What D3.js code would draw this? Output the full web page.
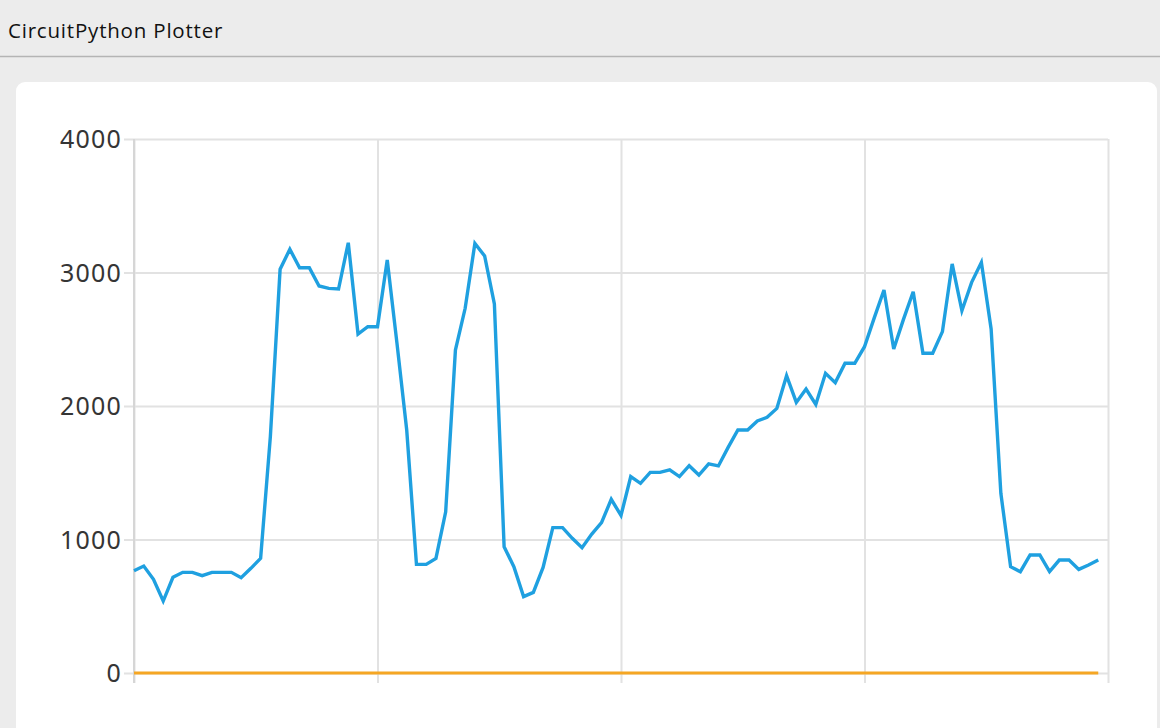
<!DOCTYPE html>
<html>
<head>
<meta charset="utf-8">
<script src="https://cdn.jsdelivr.net/npm/d3@7"></script>
<style>
  html, body { margin: 0; padding: 0; background: #ececec; }
  svg { display: block; }
</style>
</head>
<body>
<svg id="chart" width="1160" height="728"></svg>
<script>
const titleText = "CircuitPython Plotter";
const yTicks = [0, 1000, 2000, 3000, 4000];
const xTicks = [0, 25, 50, 75, 100];
const sensorValues = [
  766, 801, 702, 539, 717, 754, 754, 729, 754, 754,
  754, 714, 784, 859, 1770, 3024, 3174, 3036, 3036, 2899,
  2881, 2876, 3223, 2539, 2594, 2594, 3094, 2469, 1820, 814,
  814, 859, 1208, 2419, 2732, 3218, 3124, 2764, 946, 796,
  572, 604, 791, 1089, 1089, 1009, 939, 1041, 1126, 1301,
  1180, 1471, 1421, 1503, 1503, 1521, 1471, 1553, 1483, 1566,
  1551, 1690, 1820, 1820, 1888, 1915, 1982, 2227, 2027, 2127,
  2012, 2245, 2175, 2320, 2320, 2444, 2660, 2869, 2427, 2649,
  2856, 2395, 2395, 2557, 3064, 2714, 2926, 3076, 2577, 1346,
  796, 759, 884, 884, 759, 846, 846, 776, 809, 846
];
const zeroValues = [
  0, 0, 0, 0, 0, 0, 0, 0, 0, 0,
  0, 0, 0, 0, 0, 0, 0, 0, 0, 0,
  0, 0, 0, 0, 0, 0, 0, 0, 0, 0,
  0, 0, 0, 0, 0, 0, 0, 0, 0, 0,
  0, 0, 0, 0, 0, 0, 0, 0, 0, 0,
  0, 0, 0, 0, 0, 0, 0, 0, 0, 0,
  0, 0, 0, 0, 0, 0, 0, 0, 0, 0,
  0, 0, 0, 0, 0, 0, 0, 0, 0, 0,
  0, 0, 0, 0, 0, 0, 0, 0, 0, 0,
  0, 0, 0, 0, 0, 0, 0, 0, 0, 0
];

const svg = d3.select("#chart");

// title bar
svg.append("rect").attr("x", 0).attr("y", 0).attr("width", 1160).attr("height", 57).attr("fill", "#ececec");
svg.append("line").attr("x1", 0).attr("x2", 1160).attr("y1", 56.5).attr("y2", 56.5)
  .attr("stroke", "#b4b4b4").attr("stroke-width", 1.6);
svg.append("text").attr("x", 8).attr("y", 38).text(titleText)
  .attr("font-family", "'Open Sans', 'Liberation Sans', sans-serif").attr("font-size", 20.5)
  .attr("letter-spacing", 0.8)
  .attr("fill", "#111");

// card
svg.append("rect").attr("x", 16).attr("y", 82).attr("width", 1141).attr("height", 700)
  .attr("rx", 9).attr("fill", "#ffffff");

const x = d3.scaleLinear().domain([0, 100]).range([134, 1108]);
const y = d3.scaleLinear().domain([0, 4000]).range([673, 139]);

const grid = svg.append("g");
// vertical grid lines + ticks
const xAxis = d3.axisBottom(x).tickValues(xTicks).tickSize(-(673 - 139) - 10).tickFormat("");
grid.append("g").attr("transform", "translate(0,683)").call(xAxis)
  .call(g => g.select(".domain").remove())
  .call(g => g.selectAll("line").attr("stroke", "#e2e2e2").attr("stroke-width", 2));
// horizontal grid lines + ticks
const yAxis = d3.axisLeft(y).tickValues(yTicks).tickSize(-(1108 - 124)).tickPadding(2)
  .tickFormat(d3.format("d"));
const yg = grid.append("g").attr("transform", "translate(124,0)").call(yAxis);
yg.select(".domain").remove();
yg.selectAll("line").attr("stroke", "#e2e2e2").attr("stroke-width", 2);
yg.selectAll("text")
  .attr("font-family", "'Noto Sans', sans-serif").attr("font-size", 25)
  .attr("letter-spacing", 1.2)
  .attr("fill", "#353535").attr("dy", "0.34em");
// left axis line slightly darker
grid.append("line").attr("x1", x(0)).attr("x2", x(0)).attr("y1", y(4000)).attr("y2", 683)
  .attr("stroke", "#d6d6d6").attr("stroke-width", 2);

const line = d3.line().x((d, i) => x(i)).y(d => y(d));

svg.append("path").datum(zeroValues).attr("d", line)
  .attr("fill", "none").attr("stroke", "#f5a623").attr("stroke-width", 3);
svg.append("path").datum(sensorValues).attr("d", line)
  .attr("fill", "none").attr("stroke", "#1fa0e0").attr("stroke-width", 3.4)
  .attr("stroke-linejoin", "miter").attr("stroke-miterlimit", 4);
</script>
</body>
</html>
